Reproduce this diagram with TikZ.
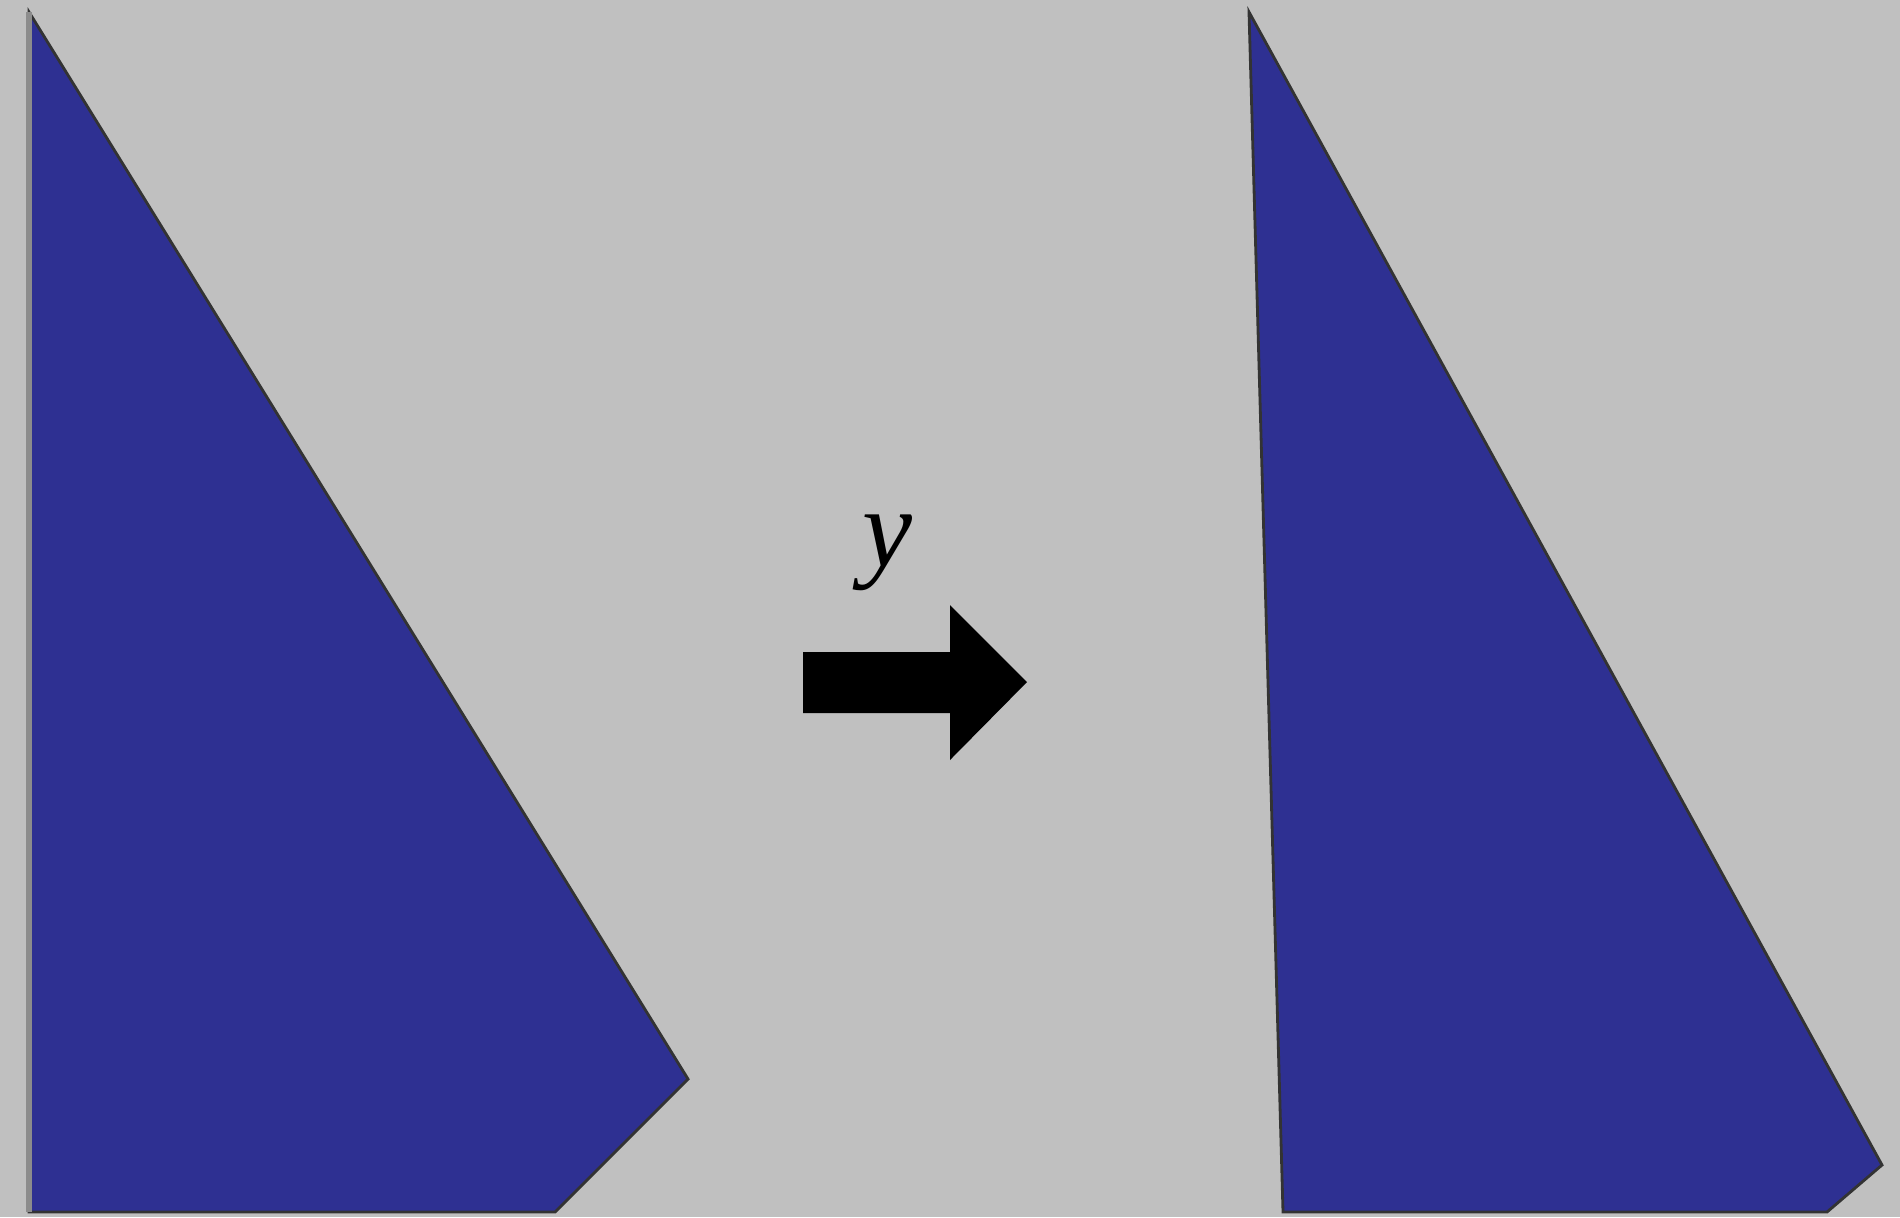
\documentclass[tikz,border=0pt]{standalone}
\usepackage{fontspec}
\setmainfont{Liberation Serif}

\definecolor{bgray}{HTML}{C0C0C0}
\definecolor{wedge}{HTML}{2E3092}

\begin{document}
\begin{tikzpicture}[
    x=0.01cm, y=-0.01cm,
    piece/.style={fill=wedge, draw=black!80, line width=0.8pt, line join=miter},
    bigarrow/.style={fill=black, draw=none},
    note/.style={font=\fontsize{32}{36}\selectfont\itshape, inner sep=0pt},
]

    \fill[bgray] (0,0) rectangle (1900,1217);
    \useasboundingbox (0,0) rectangle (1900,1217);

    % before
    \draw[piece] (29,12) -- (29,1212) -- (555,1212) -- (688,1079) -- cycle;
    \draw[black!45, line width=1.5pt] (29,12) -- (29,1212);

    % transfer
    \fill[bigarrow] (803,652) -- (950,652) -- (950,605) -- (1027,682)
        -- (950,760) -- (950,713) -- (803,713) -- cycle;
    \node[note] (lbl) at (887,553) {y};

    % after
    \draw[piece] (1249,12) -- (1283,1212) -- (1827,1212) -- (1882,1165) -- cycle;

\end{tikzpicture}
\end{document}
